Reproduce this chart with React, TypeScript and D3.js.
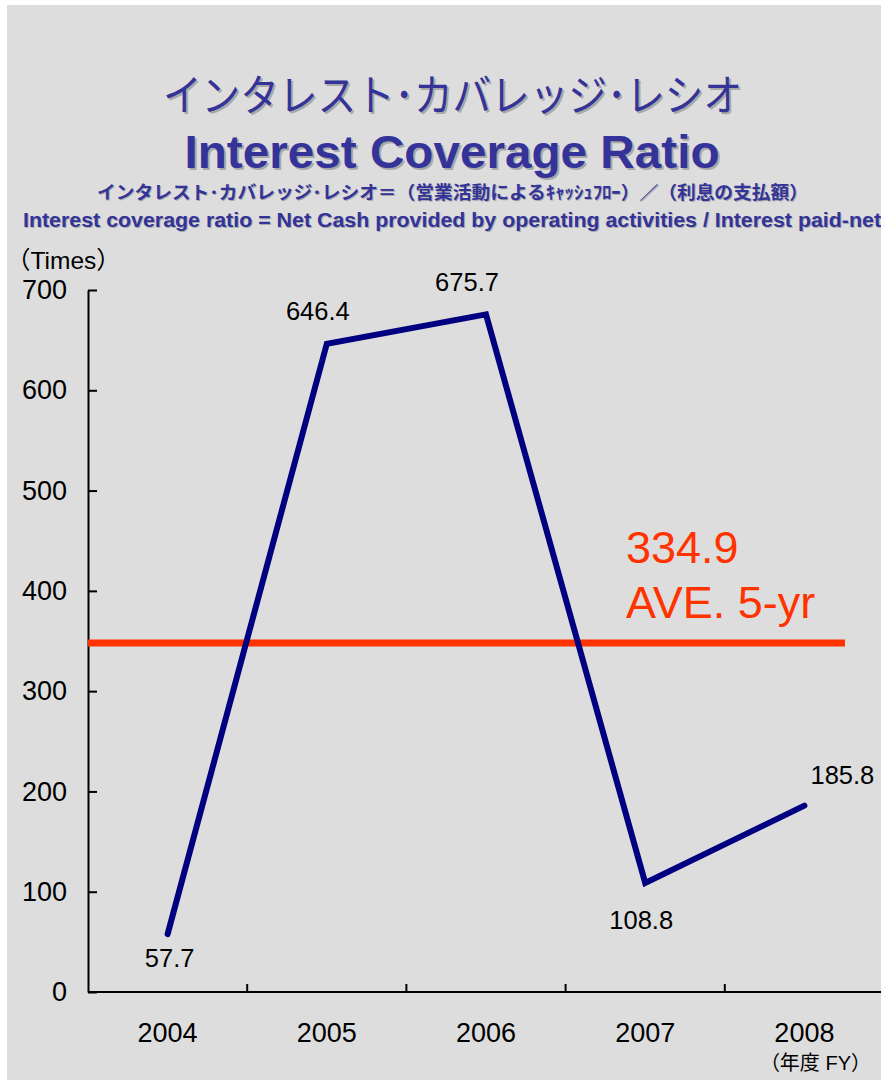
import React, { useEffect, useRef } from "react";
import * as d3 from "d3";

const years = ["2004", "2005", "2006", "2007", "2008"];
const ratios = [57.7, 646.4, 675.7, 108.8, 185.8];
const yTicks = [0, 100, 200, 300, 400, 500, 600, 700];
const avgLabel = "334.9";
// the average bar sits a bit above 334.9 in the original picture
const avgLineValue = 348;

// where each value label sits relative to its point
const labelOffsets = [
  [2, 33],
  [-9, -24],
  [-19, -23],
  [-4, 46],
  [38, -22],
];

const JP = "'Noto Sans CJK JP', 'Liberation Sans', sans-serif";
const SANS = "'Liberation Sans', Arial, 'Noto Sans CJK JP', sans-serif";
const TITLE = "#333399";

export default function App() {
  const ref = useRef<SVGSVGElement>(null);

  useEffect(() => {
    const svg = d3.select(ref.current);
    svg.selectAll("*").remove();

    const width = 881;
    const height = 1080;
    const margin = { top: 290, left: 88, bottom: 88, right: -3 };

    svg
      .append("rect")
      .attr("x", 7)
      .attr("y", 5)
      .attr("width", width)
      .attr("height", height)
      .attr("fill", "#dddddd");

    // titles with a soft drop shadow
    const titled = (
      txt: string,
      x: number,
      y: number,
      size: number,
      len: number,
      weight: string,
      family: string,
      off: number,
      anchor = "middle"
    ) => {
      [
        { c: "#a8a8a8", d: off },
        { c: TITLE, d: 0 },
      ].forEach((s) => {
        svg
          .append("text")
          .attr("x", x + s.d)
          .attr("y", y + s.d)
          .attr("text-anchor", anchor)
          .attr("font-family", family)
          .attr("font-size", size)
          .attr("font-weight", weight)
          .attr("textLength", len)
          .attr("lengthAdjust", "spacingAndGlyphs")
          .attr("fill", s.c)
          .text(txt);
      });
    };

    titled("インタレスト･カバレッジ･レシオ", 452.5, 111, 43, 579, "400", JP, 2);
    titled("Interest Coverage Ratio", 452, 168, 47, 535, "700", SANS, 2);
    titled(
      "インタレスト･カバレッジ･レシオ＝（営業活動によるｷｬｯｼｭﾌﾛｰ）／（利息の支払額）",
      452.5,
      199,
      18,
      711,
      "700",
      JP,
      1
    );
    titled(
      "Interest coverage ratio = Net Cash provided by operating activities / Interest paid-net",
      23,
      227,
      20,
      858,
      "700",
      SANS,
      1,
      "start"
    );

    const x = d3
      .scaleBand()
      .domain(years)
      .range([margin.left, width - margin.right]);
    const y = d3
      .scaleLinear()
      .domain([0, 700])
      .range([height - margin.bottom, margin.top]);

    const yAxis = svg
      .append("g")
      .attr("transform", `translate(${margin.left},0)`)
      .call(
        d3
          .axisLeft(y)
          .tickValues(yTicks)
          .tickSizeInner(-9)
          .tickSizeOuter(0)
          .tickPadding(21)
      );
    yAxis.select(".domain").attr("stroke", "#000").attr("stroke-width", 2);
    yAxis.selectAll(".tick line").attr("stroke-width", 2);
    yAxis
      .selectAll(".tick text")
      .attr("font-family", SANS)
      .attr("font-size", 27)
      .attr("fill", "#000");

    const base = y(0);
    const xAxis = svg.append("g").attr("transform", `translate(0,${base})`);
    xAxis
      .append("line")
      .attr("x1", margin.left)
      .attr("x2", width + 3)
      .attr("stroke", "#000")
      .attr("stroke-width", 2);
    xAxis
      .selectAll(".sep")
      .data(years)
      .enter()
      .append("line")
      .attr("x1", (d) => (x(d) as number) + x.bandwidth())
      .attr("x2", (d) => (x(d) as number) + x.bandwidth())
      .attr("y1", 0)
      .attr("y2", -8)
      .attr("stroke", "#000")
      .attr("stroke-width", 2);
    xAxis
      .selectAll(".lbl")
      .data(years)
      .enter()
      .append("text")
      .attr("x", (d) => (x(d) as number) + x.bandwidth() / 2)
      .attr("y", 50)
      .attr("text-anchor", "middle")
      .attr("font-family", SANS)
      .attr("font-size", 27)
      .attr("fill", "#000")
      .text((d) => d);

    svg
      .append("text")
      .attr("x", 6)
      .attr("y", 269)
      .attr("font-family", SANS)
      .attr("font-size", 24.5)
      .attr("fill", "#000")
      .text("（Times）");

    svg
      .append("text")
      .attr("x", 871)
      .attr("y", 1070)
      .attr("text-anchor", "end")
      .attr("font-family", SANS)
      .attr("font-size", 20)
      .attr("fill", "#000")
      .text("（年度 FY）");

    // 5-year average
    svg
      .append("line")
      .attr("x1", margin.left)
      .attr("x2", 845)
      .attr("y1", y(avgLineValue))
      .attr("y2", y(avgLineValue))
      .attr("stroke", "#ff3300")
      .attr("stroke-width", 7);
    svg
      .append("text")
      .attr("x", 626)
      .attr("y", 563)
      .attr("font-family", SANS)
      .attr("font-size", 45)
      .attr("fill", "#ff3300")
      .text(avgLabel);
    svg
      .append("text")
      .attr("x", 626)
      .attr("y", 618)
      .attr("font-family", SANS)
      .attr("font-size", 45)
      .attr("fill", "#ff3300")
      .text("AVE. 5-yr");

    const cx = (i: number) => (x(years[i]) as number) + x.bandwidth() / 2;
    const line = d3
      .line<number>()
      .x((_, i) => cx(i))
      .y((d) => y(d));
    svg
      .append("path")
      .attr("d", line(ratios))
      .attr("fill", "none")
      .attr("stroke", "#000080")
      .attr("stroke-width", 6)
      .attr("stroke-linejoin", "miter")
      .attr("stroke-linecap", "round");

    svg
      .selectAll(".val")
      .data(ratios)
      .enter()
      .append("text")
      .attr("x", (_, i) => cx(i) + labelOffsets[i][0])
      .attr("y", (d, i) => y(d) + labelOffsets[i][1])
      .attr("text-anchor", "middle")
      .attr("font-family", SANS)
      .attr("font-size", 25.5)
      .attr("fill", "#000")
      .text((d) => d.toFixed(1));
  }, []);

  return (
    <svg
      ref={ref}
      width={881}
      height={1080}
      style={{ position: "absolute", left: 0, top: 0, background: "#fff" }}
    />
  );
}
